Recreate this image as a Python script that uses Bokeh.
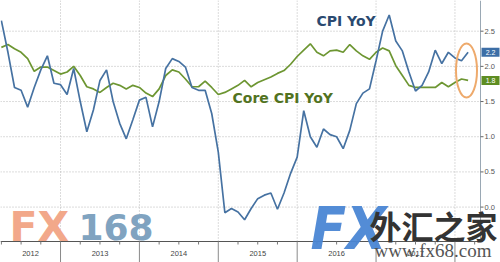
import pandas as pd
from bokeh.plotting import figure
from bokeh.models import Range1d
from bokeh.core.properties import value
from bokeh.embed import file_html
from bokeh.resources import INLINE

# ---- data (monthly, Mar 2012 .. Feb 2018) ----
start_month = "2012-03"
end_month = "2018-02"
cpi_yoy = [
    2.65, 2.20, 1.70, 1.66, 1.42, 1.70, 1.95, 2.15, 1.76, 1.74,
    1.60, 1.97, 1.50, 1.07, 1.38, 1.80, 1.95, 1.50, 1.19, 0.97, 1.24, 1.52,
    1.56, 1.14, 1.50, 1.97, 2.11, 2.07, 1.99, 1.70, 1.66, 1.66, 1.33, 0.78,
    -0.08, -0.02, -0.07, -0.18, -0.02, 0.12, 0.17, 0.20, -0.03, 0.20, 0.48, 0.71,
    1.37, 1.00, 0.85, 1.11, 1.03, 1.00, 0.83, 1.09, 1.47, 1.62, 1.68, 2.08,
    2.50, 2.73, 2.36, 2.22, 1.92, 1.65, 1.73, 1.92, 2.23, 2.04, 2.20, 2.12,
    2.08, 2.20,
]
core_cpi_yoy = [
    2.27, 2.31, 2.25, 2.20, 2.11, 1.93, 1.99, 1.99, 1.94, 1.89,
    1.92, 2.00, 1.87, 1.71, 1.68, 1.63, 1.70, 1.76, 1.73, 1.68, 1.73, 1.70,
    1.62, 1.57, 1.68, 1.87, 1.95, 1.92, 1.82, 1.71, 1.71, 1.79, 1.70, 1.60,
    1.63, 1.68, 1.73, 1.80, 1.71, 1.77, 1.81, 1.85, 1.90, 1.94, 2.03, 2.14,
    2.23, 2.32, 2.20, 2.15, 2.22, 2.23, 2.20, 2.31, 2.22, 2.15, 2.10, 2.20,
    2.26, 2.22, 2.01, 1.87, 1.73, 1.70, 1.70, 1.70, 1.70, 1.77, 1.71, 1.77,
    1.82, 1.80,
]
year_ticks = [2013, 2014, 2015, 2016, 2017, 2018]
year_labels = ["2012", "2013", "2014", "2015", "2016", "2017"]
y_ticks = [0.0, 0.5, 1.0, 1.5, 2.0, 2.5]
y_tick_labels = ["0.0", "0.5", "1.0", "1.5", "2.0", "2.5"]

months = pd.period_range(start_month, end_month, freq="M")
xs = [m.year + m.month / 12.0 for m in months]  # month-end positions

# ---- layout constants (plot area 480x241 inside a 500x262 canvas) ----
W, H = 500, 262
FW, FH = 480, 241
X0, X1 = 2012.239, 2018.324     # plot area x extent
Y0, Y1 = -0.489, 2.936          # plot area y extent
SX = (X1 - X0) / FW             # data units per pixel
SY = (Y1 - Y0) / FH
XR = X0 + W * SX
YB = Y1 - H * SY


def dx(px):
    return X0 + px * SX


def dy(py):
    return Y1 - py * SY


BLUE = "#4672a2"
GREEN = "#6d9632"

p = figure(width=W, height=H, output_backend="svg", toolbar_location=None,
           x_range=Range1d(X0, XR), y_range=Range1d(YB, Y1),
           x_axis_location=None, y_axis_location=None,
           min_border=0, min_border_left=0, min_border_right=0,
           min_border_top=0, min_border_bottom=0)
p.outline_line_color = None
p.grid.visible = False
p.background_fill_color = "white"
p.border_fill_color = "white"

# dotted grid inside plot area
p.segment(x0=year_ticks, x1=year_ticks, y0=[Y0] * len(year_ticks), y1=[Y1] * len(year_ticks),
          line_color="#b8b8b8", line_dash="1 2", line_width=1)
p.segment(x0=[X0] * len(y_ticks), x1=[X1] * len(y_ticks), y0=y_ticks, y1=y_ticks,
          line_color="#b8b8b8", line_dash="1 2", line_width=1)

# x axis: line, year separators, quarter ticks, year labels
p.segment(x0=[X0], x1=[X1], y0=[Y0], y1=[Y0], line_color="#555555", line_width=1)
p.segment(x0=year_ticks, x1=year_ticks, y0=[Y0] * len(year_ticks), y1=[YB] * len(year_ticks),
          line_color="#8a8a8a", line_width=1)
quarters = [y + q / 4.0 for y in range(2012, 2019) for q in range(1, 4)]
quarters = [q for q in quarters if X0 < q < X1]
p.segment(x0=quarters, x1=quarters, y0=[Y0] * len(quarters), y1=[Y0 - 3 * SY] * len(quarters),
          line_color="#777777", line_width=1)
lab_x = [(max(2012 + i, X0) + min(2013 + i, X1)) / 2 for i in range(len(year_labels))]
p.text(x=lab_x, y=[dy(253)] * len(year_labels), text=year_labels,
       text_font=value("Liberation Sans"), text_font_size="7.5px", text_color="#444444",
       text_align="center", text_baseline="middle")

# y axis on the right
p.segment(x0=[X1], x1=[X1], y0=[Y0], y1=[Y1], line_color="#9aa8b4", line_width=1)
p.segment(x0=[X1] * len(y_ticks), x1=[X1 + 3 * SX] * len(y_ticks), y0=y_ticks, y1=y_ticks,
          line_color="#666666", line_width=1)
p.text(x=[X1 + 4 * SX] * len(y_ticks), y=y_ticks, text=y_tick_labels,
       text_font=value("Liberation Sans"), text_font_size="7.5px", text_color="#555555",
       text_align="left", text_baseline="middle")

# series
p.line(xs, core_cpi_yoy, line_color=GREEN, line_width=1.7)
p.line(xs, cpi_yoy, line_color=BLUE, line_width=1.7)

# highlight ellipse around latest values
p.ellipse(x=[dx(466)], y=[dy(70)], width=21 * SX, height=54 * SY, fill_color=None,
          line_color="#eeaa6c", line_width=2)

# series labels
p.text(x=[dx(316)], y=[dy(20.5)], text=["CPI YoY"], text_font=value("DejaVu Sans"),
       text_font_style="bold", text_font_size="14px", text_color="#2b4a70",
       text_baseline="middle")
p.text(x=[dx(232)], y=[dy(97)], text=["Core CPI YoY"], text_font=value("DejaVu Sans"),
       text_font_style="bold", text_font_size="14px", text_color="#52731f",
       text_baseline="middle")

# last value boxes
last_vals = [cpi_yoy[-1], core_cpi_yoy[-1]]
p.quad(left=[X1 + 1 * SX] * 2, right=[X1 + 19 * SX] * 2,
       bottom=[v - 4.5 * SY for v in last_vals], top=[v + 4.5 * SY for v in last_vals],
       fill_color=["#3c6ea6", "#5e8d22"], line_color=None)
p.text(x=[X1 + 10 * SX] * 2, y=last_vals, text=[f"{v:.1f}" for v in last_vals],
       text_font=value("Liberation Sans"), text_font_size="7px", text_color="white",
       text_align="center", text_baseline="middle")

# watermarks
p.text(x=[dx(9)], y=[dy(226)], text=["FX"], text_font=value("DejaVu Sans"),
       text_font_style="bold", text_font_size="41px", text_color="#f2a88a",
       text_baseline="middle")
p.text(x=[dx(78)], y=[dy(226)], text=["168"], text_font=value("DejaVu Sans"),
       text_font_style="bold", text_font_size="36px", text_color="#80a3c0",
       text_baseline="middle")
p.text(x=[dx(310)], y=[dy(228)], text=["FX"], text_font=value("DejaVu Sans Condensed"),
       text_font_style="bold italic", text_font_size="58px", text_color="#4a86d4",
       text_baseline="middle", text_alpha=0.95)
p.text(x=[dx(369)], y=[dy(224)], text=["外汇之家"], text_font=value("Noto Sans CJK SC"),
       text_font_style="bold", text_font_size="32px", text_color="#333333",
       text_baseline="middle")
p.text(x=[dx(374)], y=[dy(250)], text=["www.fx68.com"], text_font=value("Liberation Serif"),
       text_font_size="19px", text_color="#555555", text_baseline="middle")

open("out.html", "w").write(file_html(p, INLINE))
